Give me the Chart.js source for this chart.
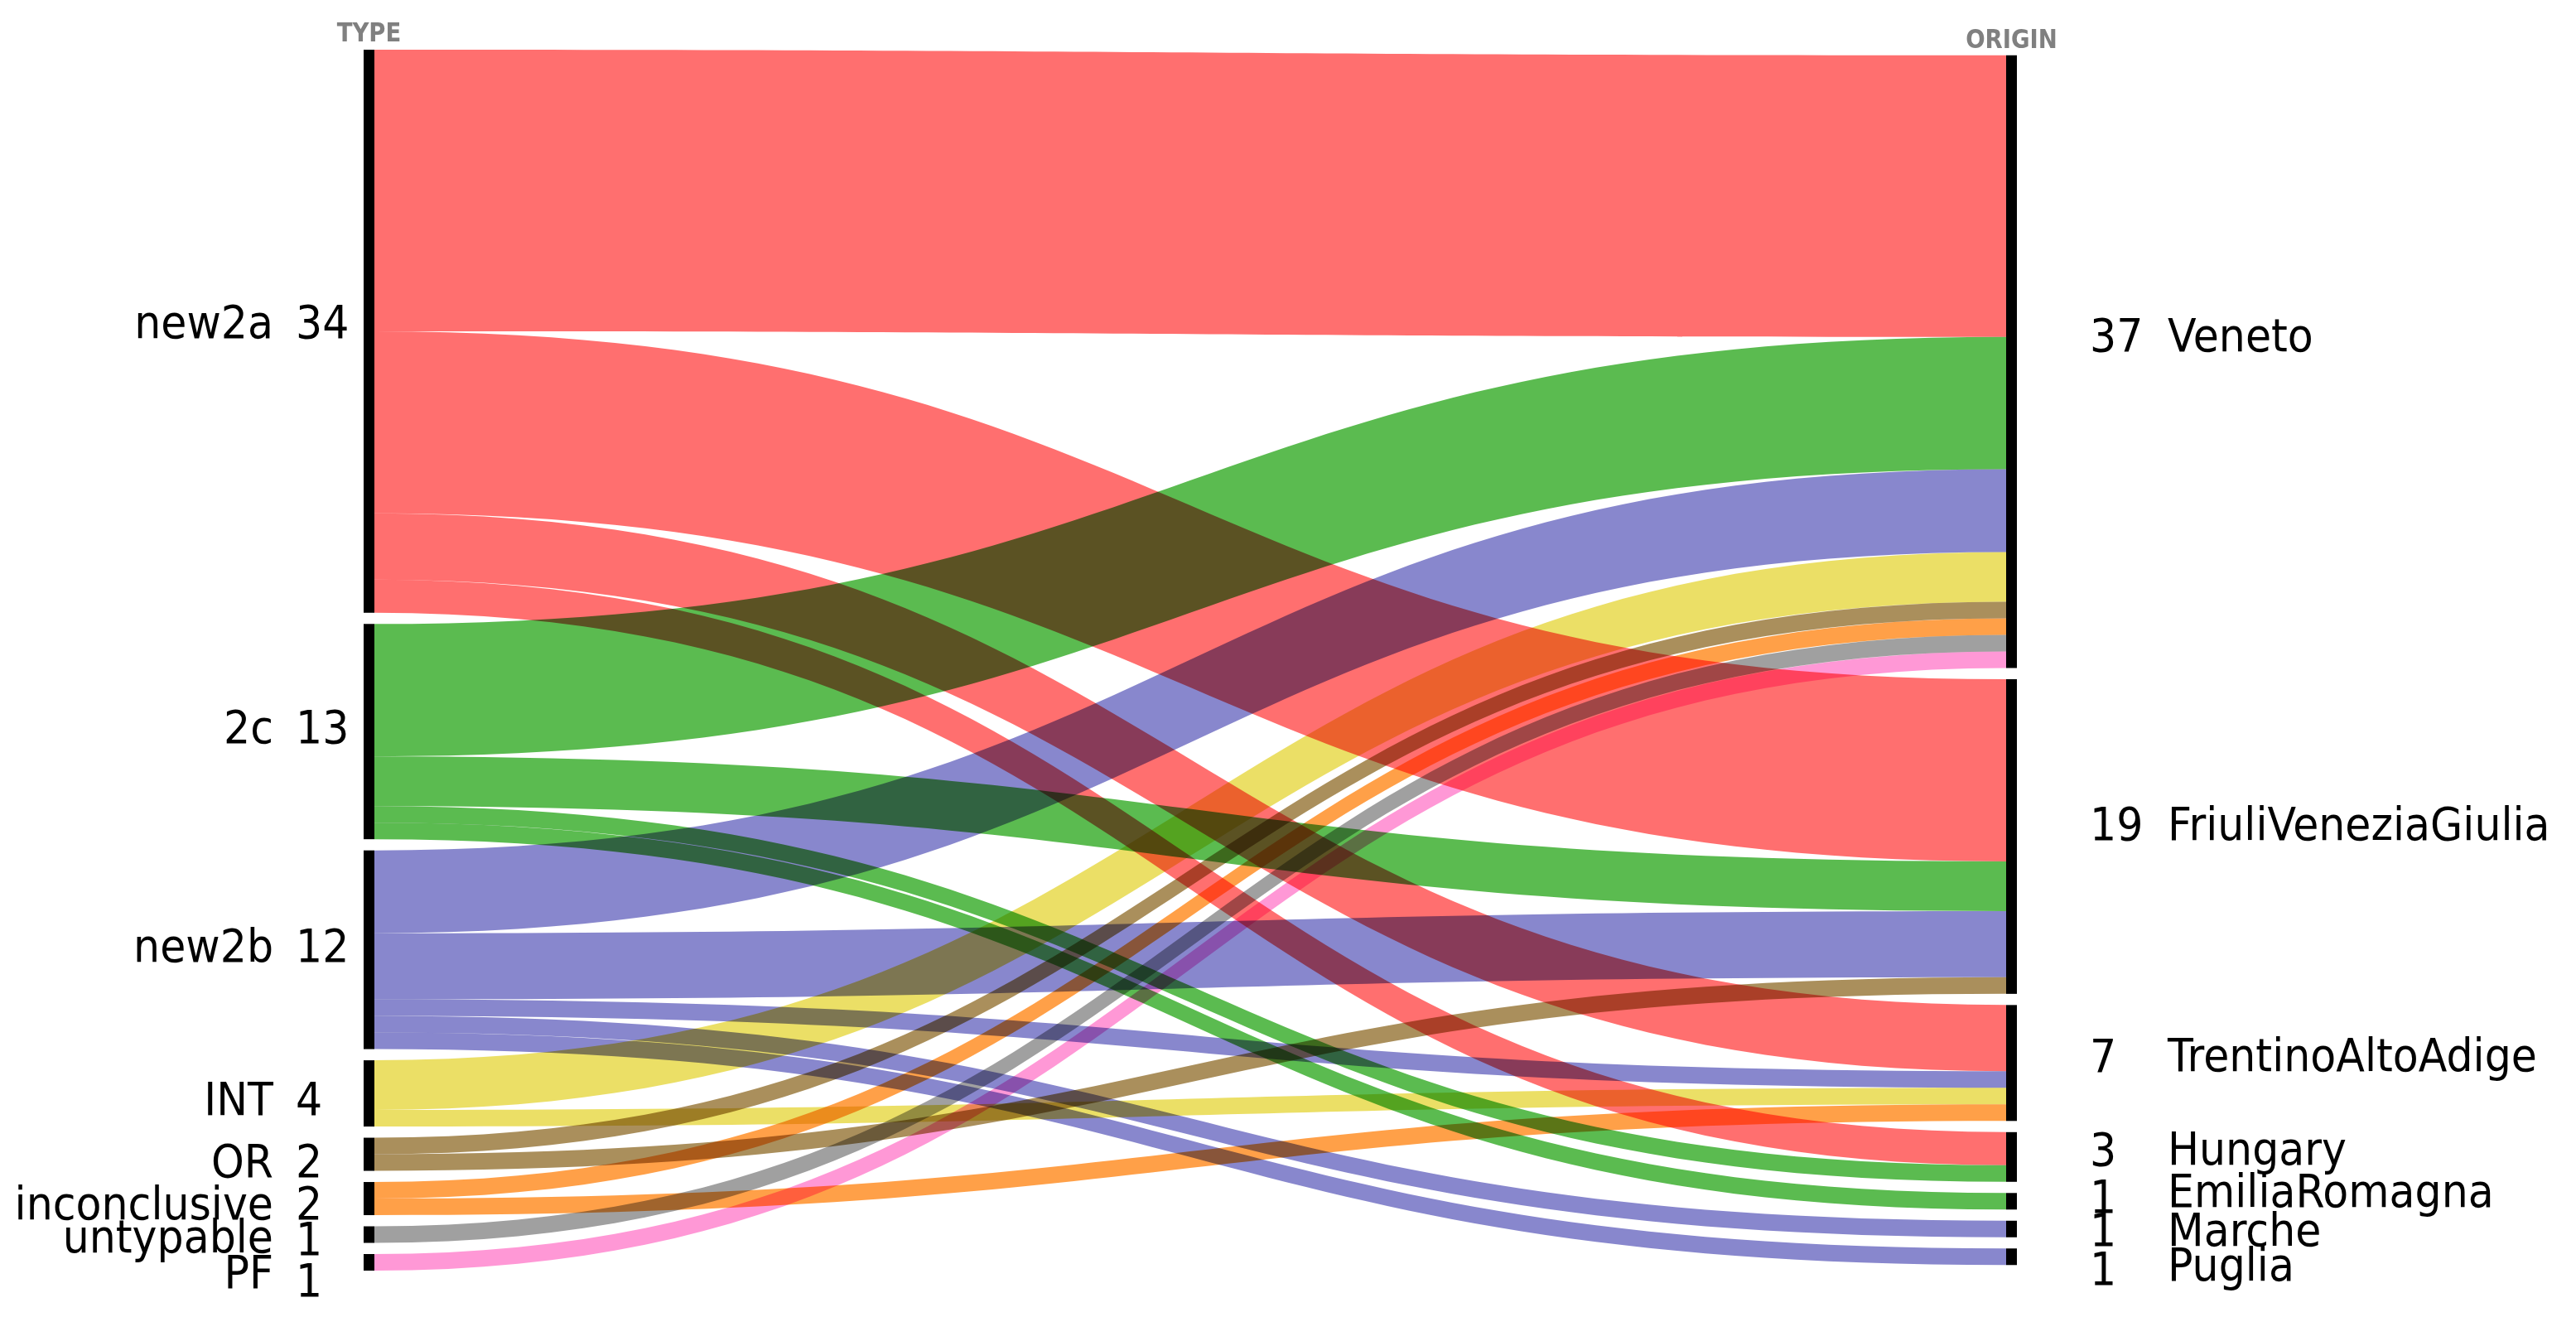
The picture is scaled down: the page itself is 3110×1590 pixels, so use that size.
<!DOCTYPE html>
<html><head><meta charset="utf-8">
<script src="https://cdn.jsdelivr.net/npm/chart.js@4.4.1/dist/chart.umd.min.js"></script>
<style>html,body{margin:0;padding:0;background:#fff;overflow:hidden}canvas{display:block}</style>
</head><body>
<canvas id="c" width="3110" height="1590"></canvas>
<script>
// ---------- data ----------
const types = ['new2a', '2c', 'new2b', 'INT', 'OR', 'inconclusive', 'untypable', 'PF'];
const origins = ['Veneto', 'FriuliVeneziaGiulia', 'TrentinoAltoAdige', 'Hungary', 'EmiliaRomagna', 'Marche', 'Puglia'];
const linkSource = [0, 0, 0, 0, 1, 1, 1, 1, 2, 2, 2, 2, 2, 3, 3, 4, 4, 5, 5, 6, 7];
const linkTarget = [0, 1, 2, 3, 0, 1, 3, 4, 0, 1, 2, 5, 6, 0, 2, 0, 1, 0, 2, 0, 0];
const linkValue  = [17, 11, 4, 2, 8, 3, 1, 1, 5, 4, 1, 1, 1, 3, 1, 1, 1, 1, 1, 1, 1];
const columnTitles = ['TYPE', 'ORIGIN'];

// ---------- styles / layout ----------
const typeColors = ['#FF6F6F', '#5BBB50', '#8887CD', '#EBDF66', '#AA8F5C', '#FFA048', '#A0A0A0', '#FF98D6'];
const NODE_PAD = 0.675;      // gap between nodes, in flow units
const NODE_W = 13;           // node bar width, px
const FONT = '"DejaVu Sans", Verdana, sans-serif';
const SQUEEZE = 0.92;
const leftNameDy  = [8, 14, 14, 26, 27, 25, 21, 31];
const leftNumDy   = [8, 14, 14, 26, 27, 25, 24, 41];
const rightNumDy  = [-13, 4, 11, 10, 14, 20, 34];
const rightNameDy = [-13, 4, 10, 9, 7, 20, 29];

const srcTotals = types.map((_, i) => linkValue.reduce((s, v, k) => s + (linkSource[k] === i ? v : 0), 0));
const tgtTotals = origins.map((_, i) => linkValue.reduce((s, v, k) => s + (linkTarget[k] === i ? v : 0), 0));
const spanOf = arr => arr.reduce((a, b) => a + b, 0) + (arr.length - 1) * NODE_PAD;
const yMax = Math.max(spanOf(srcTotals), spanOf(tgtTotals));

function layoutColumn(totals) {
  let y = (yMax - spanOf(totals)) / 2;
  return totals.map(t => { const n = { y0: y, y1: y + t, v: t }; y += t + NODE_PAD; return n; });
}

function drawText(ctx, txt, x, y, align, font, color, sq) {
  ctx.save();
  ctx.translate(x, y);
  ctx.scale(sq, 1);
  ctx.font = font;
  ctx.fillStyle = color;
  ctx.textAlign = align;
  ctx.textBaseline = 'alphabetic';
  ctx.fillText(txt, 0, 0);
  ctx.restore();
}

const sankeyPlugin = {
  id: 'sankey',
  beforeDraw(chart) {
    const ctx = chart.ctx;
    ctx.save();
    ctx.fillStyle = '#ffffff';
    ctx.fillRect(0, 0, chart.width, chart.height);
    ctx.restore();
  },
  afterDatasetsDraw(chart) {
    const ctx = chart.ctx;
    const xs = chart.scales.x, ys = chart.scales.y;
    const L = layoutColumn(srcTotals), R = layoutColumn(tgtTotals);
    const xL = xs.getPixelForValue(0), xR = xs.getPixelForValue(1);
    const x0 = xL + NODE_W, x1 = xR - NODE_W, xm = (x0 + x1) / 2;

    // link offsets
    const idx = linkValue.map((_, k) => k);
    const sOff = L.map(n => n.y0), tOff = R.map(n => n.y0);
    const sy = [], ty = [];
    idx.slice().sort((a, b) => linkSource[a] - linkSource[b] || linkTarget[a] - linkTarget[b])
      .forEach(k => { sy[k] = sOff[linkSource[k]]; sOff[linkSource[k]] += linkValue[k]; });
    idx.slice().sort((a, b) => linkTarget[a] - linkTarget[b] || linkSource[a] - linkSource[b])
      .forEach(k => { ty[k] = tOff[linkTarget[k]]; tOff[linkTarget[k]] += linkValue[k]; });

    ctx.save();
    ctx.globalCompositeOperation = 'multiply';
    idx.forEach(k => {
      const a0 = ys.getPixelForValue(sy[k]), a1 = ys.getPixelForValue(sy[k] + linkValue[k]);
      const b0 = ys.getPixelForValue(ty[k]), b1 = ys.getPixelForValue(ty[k] + linkValue[k]);
      ctx.beginPath();
      ctx.moveTo(x0, a0);
      ctx.bezierCurveTo(xm, a0, xm, b0, x1, b0);
      ctx.lineTo(x1, b1);
      ctx.bezierCurveTo(xm, b1, xm, a1, x0, a1);
      ctx.closePath();
      ctx.fillStyle = typeColors[linkSource[k]];
      ctx.fill();
    });
    ctx.restore();

    // nodes
    ctx.save();
    ctx.fillStyle = '#000000';
    L.forEach(n => { const t = ys.getPixelForValue(n.y0), b = ys.getPixelForValue(n.y1); ctx.fillRect(xL, t, NODE_W, b - t); });
    R.forEach(n => { const t = ys.getPixelForValue(n.y0), b = ys.getPixelForValue(n.y1); ctx.fillRect(xR - NODE_W, t, NODE_W, b - t); });
    ctx.restore();

    // labels
    const f = '55px ' + FONT;
    L.forEach((n, i) => {
      const c = ys.getPixelForValue((n.y0 + n.y1) / 2);
      drawText(ctx, types[i], xL - 109, c + leftNameDy[i], 'right', f, '#000', SQUEEZE);
      drawText(ctx, String(n.v), xL - 82, c + leftNumDy[i], 'left', f, '#000', SQUEEZE);
    });
    R.forEach((n, i) => {
      const c = ys.getPixelForValue((n.y0 + n.y1) / 2);
      drawText(ctx, String(n.v), xR + 88, c + rightNumDy[i], 'left', f, '#000', SQUEEZE);
      drawText(ctx, origins[i], xR + 182, c + rightNameDy[i], 'left', f, '#000', SQUEEZE);
    });
    const tf = 'bold 32px ' + FONT;
    drawText(ctx, columnTitles[0], xL + NODE_W / 2, ys.getPixelForValue(L[0].y0) - 10, 'center', tf, '#808080', 0.86);
    drawText(ctx, columnTitles[1], xR - NODE_W / 2, ys.getPixelForValue(R[0].y0) - 9, 'center', tf, '#808080', 0.86);
  }
};

new Chart(document.getElementById('c'), {
  type: 'scatter',
  data: { datasets: [{ data: [], showLine: false }] },
  options: {
    responsive: false,
    animation: false,
    devicePixelRatio: 1,
    layout: { padding: { left: 439, right: 675, top: 60, bottom: 56 } },
    scales: {
      x: { type: 'linear', min: 0, max: 1, display: false },
      y: { type: 'linear', min: 0, max: yMax, reverse: true, display: false }
    },
    plugins: { legend: { display: false }, tooltip: { enabled: false } }
  },
  plugins: [sankeyPlugin]
});
</script>
</body></html>
